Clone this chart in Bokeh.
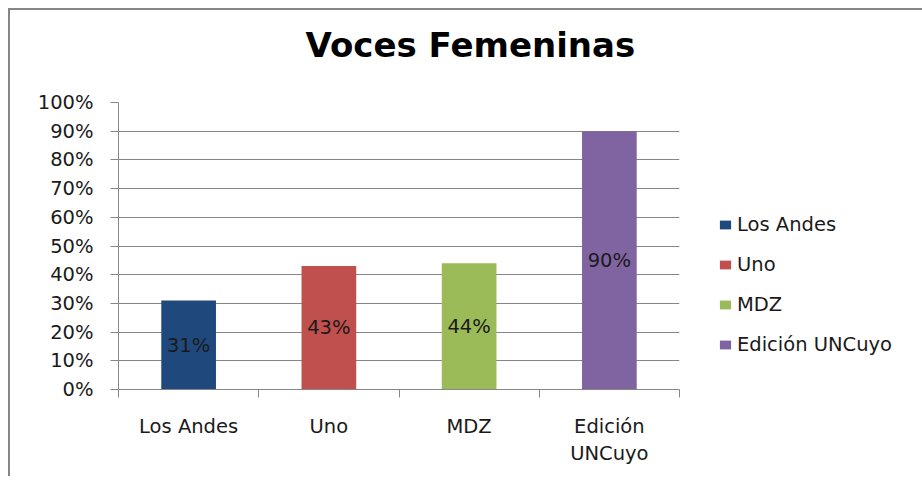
from bokeh.plotting import figure
from bokeh.models import (ColumnDataSource, FixedTicker, Legend, LegendItem, Title,
                          Range1d)
from bokeh.core.properties import value
from bokeh.embed import file_html
from bokeh.resources import INLINE

# ---- data ----
categories = ["Los Andes", "Uno", "MDZ", "Edición UNCuyo"]
axis_labels = ["Los Andes", "Uno", "MDZ", "Edición\nUNCuyo"]
shares = [0.31, 0.43, 0.44, 0.90]
colors = ["#1F497D", "#C0504D", "#9BBB59", "#8064A2"]
y_ticks = [0.0, 0.1, 0.2, 0.3, 0.4, 0.5, 0.6, 0.7, 0.8, 0.9, 1.0]
title_text = "Voces Femeninas"

FONT = "DejaVu Sans"
TXT = "#1a1a1a"
GRAY = "#868686"

xs = [i + 0.5 for i in range(len(categories))]
src = ColumnDataSource(dict(
    x=xs, top=shares, color=colors, cat=categories,
    ymid=[v / 2 for v in shares],
    lab=[f"{round(v * 100)}%" for v in shares],
))

p = figure(frame_width=561, frame_height=287, output_backend="svg", toolbar_location=None,
           x_range=Range1d(0, len(categories)), y_range=Range1d(0, 1),
           min_border_left=108, min_border_right=235,
           min_border_top=92, min_border_bottom=87, title=None)
p.styles = {"margin-left": "8px", "margin-top": "8px",
            "border-top": f"2px solid {GRAY}", "border-left": f"2px solid {GRAY}"}
p.outline_line_color = None
p.background_fill_color = "white"
p.border_fill_color = "white"

bars = p.vbar(x="x", top="top", width=0.39, bottom=0, color="color",
              line_color=None, source=src)

p.text(x="x", y="ymid", text="lab", source=src, text_align="center",
       text_baseline="middle", text_font=value(FONT), text_font_size="19.5px",
       text_color=TXT)

# y axis
p.yaxis.ticker = FixedTicker(ticks=y_ticks)
p.yaxis.major_label_overrides = {t: f"{round(t * 100)}%" for t in y_ticks}
p.yaxis.minor_tick_line_color = None
p.yaxis.major_tick_in = 0
p.yaxis.major_tick_out = 8
p.yaxis.major_tick_line_color = GRAY
p.yaxis.axis_line_color = GRAY
p.yaxis.major_label_standoff = 17
p.yaxis.major_label_text_font = FONT
p.yaxis.major_label_text_font_size = "19.5px"
p.yaxis.major_label_text_color = TXT

# x axis: labels at centres, tick marks at boundaries
p.xaxis.ticker = FixedTicker(ticks=xs, minor_ticks=list(range(len(categories) + 1)))
p.xaxis.major_label_overrides = {x: l for x, l in zip(xs, axis_labels)}
p.xaxis.major_tick_in = 0
p.xaxis.major_tick_out = 0
p.xaxis.minor_tick_in = 0
p.xaxis.minor_tick_out = 8
p.xaxis.minor_tick_line_color = GRAY
p.xaxis.axis_line_color = GRAY
p.xaxis.major_label_standoff = 17
p.xaxis.major_label_text_font = FONT
p.xaxis.major_label_text_font_size = "19.5px"
p.xaxis.major_label_text_color = TXT

p.xgrid.grid_line_color = None
p.ygrid.ticker = FixedTicker(ticks=y_ticks)
p.ygrid.grid_line_color = GRAY
p.ygrid.grid_line_width = 1

# legend
items = [LegendItem(label=c, renderers=[bars], index=i) for i, c in enumerate(categories)]
legend = Legend(items=items, location=(39, 33), orientation="vertical",
                glyph_width=14, glyph_height=11, label_height=23, spacing=17,
                label_standoff=5, padding=0, margin=0,
                border_line_color=None, background_fill_alpha=0,
                label_text_font=FONT, label_text_font_size="19.5px",
                label_text_color=TXT)
p.add_layout(legend, "right")

# spacer between frame and title, then the title itself
p.add_layout(Title(text=" ", standoff=35, text_font_size="1px"), "above")
p.add_layout(Title(text=title_text, align="left", offset=187, standoff=0,
                   text_font=FONT, text_font_style="bold", text_font_size="34px",
                   text_color="#000000"), "above")

open("out.html", "w").write(file_html(p, INLINE))
